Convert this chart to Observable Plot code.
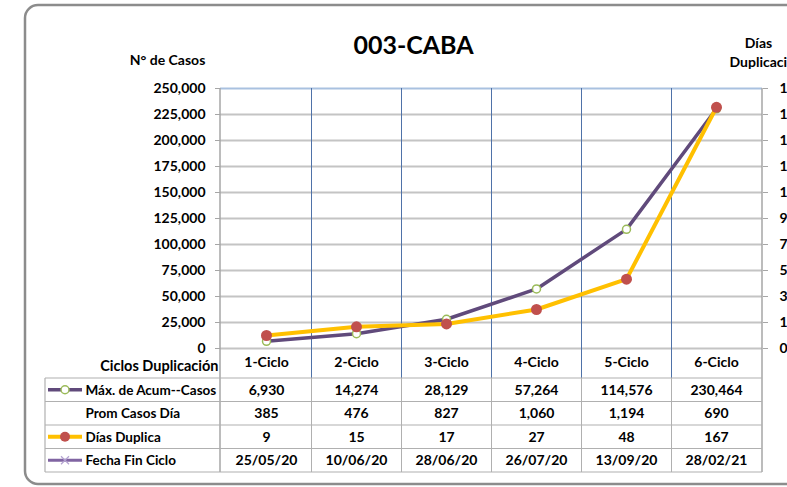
<!DOCTYPE html>
<html><head><meta charset="utf-8">
<script src="https://cdn.jsdelivr.net/npm/d3@7"></script>
<script src="https://cdn.jsdelivr.net/npm/@observablehq/plot@0.6"></script>
<style>body{margin:0;background:#fff} svg{display:block}</style>
</head><body><div id="chart"></div>
<script>
const cycles = ["1-Ciclo","2-Ciclo","3-Ciclo","4-Ciclo","5-Ciclo","6-Ciclo"];
const maxCasos = [6930,14274,28129,57264,114576,230464];
const promCasosDia = [385,476,827,1060,1194,690];
const diasDuplica = [9,15,17,27,48,167];
const fechaFinCiclo = ["25/05/20","10/06/20","28/06/20","26/07/20","13/09/20","28/02/21"];
const leftTicks = d3.range(0, 250001, 25000);
const rightTicks = d3.range(0, 181, 18);
const rowLabels = ["Máx. de Acum--Casos","Prom Casos Día","Días Duplica","Fecha Fin Ciclo"];
const headerLabel = "Ciclos Duplicación";
const title = "003-CABA";

const K = 250000 / 180;
const fmt = d3.format(",");
const data = cycles.map((c, i) => ({cycle: c, max: maxCasos[i], dias: diasDuplica[i] * K}));
const rowValues = [maxCasos.map(fmt), promCasosDia.map(fmt), diasDuplica.map(String), fechaFinCiclo];

const ROW_TOP = 30, ROW_H = 23.5;
const rowCenter = i => ROW_TOP + ROW_H * i + ROW_H / 2;

function decor(index, scales, values, dims) {
  const x = scales.x;
  const left = dims.marginLeft, right = dims.width - dims.marginRight;
  const top = dims.marginTop, bottom = dims.height - dims.marginBottom;
  const g = d3.create("svg:g");
  g.append("rect").attr("x", 25).attr("y", 5).attr("width", 800).attr("height", 479)
    .attr("rx", 13).attr("fill", "none").attr("stroke", "#8c8c8c").attr("stroke-width", 2.5);
  cycles.slice(1).forEach(c => {
    const xx = Math.round(x(c)) + 0.5;
    g.append("line").attr("x1", xx).attr("x2", xx).attr("y1", top).attr("y2", bottom + ROW_TOP)
      .attr("stroke", "#4f72a8").attr("stroke-width", 1);
    g.append("line").attr("x1", xx).attr("x2", xx).attr("y1", bottom + ROW_TOP).attr("y2", bottom + ROW_TOP + 4 * ROW_H)
      .attr("stroke", "#b0b0b0").attr("stroke-width", 1);
  });
  const tb = bottom + ROW_TOP + 4 * ROW_H;
  g.append("line").attr("x1", left).attr("x2", left).attr("y1", top).attr("y2", tb).attr("stroke", "#a6a6a6").attr("stroke-width", 1.5);
  g.append("line").attr("x1", right).attr("x2", right).attr("y1", top).attr("y2", tb).attr("stroke", "#a6a6a6").attr("stroke-width", 1.5);
  for (let i = 0; i <= 4; i++) {
    const yy = bottom + ROW_TOP + ROW_H * i;
    g.append("line").attr("x1", 45).attr("x2", right).attr("y1", yy).attr("y2", yy).attr("stroke", "#b0b0b0").attr("stroke-width", 1.2);
  }
  g.append("line").attr("x1", 45).attr("x2", 45).attr("y1", bottom + ROW_TOP).attr("y2", tb).attr("stroke", "#b0b0b0").attr("stroke-width", 1.2);
  const ky = i => bottom + rowCenter(i);
  g.append("line").attr("x1", 48).attr("x2", 82).attr("y1", ky(0)).attr("y2", ky(0)).attr("stroke", "#604a7b").attr("stroke-width", 3.5);
  g.append("circle").attr("cx", 65).attr("cy", ky(0)).attr("r", 4).attr("fill", "white").attr("stroke", "#9bbb59").attr("stroke-width", 1.5);
  g.append("line").attr("x1", 48).attr("x2", 82).attr("y1", ky(2)).attr("y2", ky(2)).attr("stroke", "#ffc000").attr("stroke-width", 4);
  g.append("circle").attr("cx", 65).attr("cy", ky(2)).attr("r", 5).attr("fill", "#c0504d");
  g.append("line").attr("x1", 48).attr("x2", 82).attr("y1", ky(3)).attr("y2", ky(3)).attr("stroke", "#8064a2").attr("stroke-width", 3);
  g.append("path").attr("d", `M61,${ky(3)-4}L69,${ky(3)+4}M61,${ky(3)+4}L69,${ky(3)-4}`).attr("stroke", "#b3a2d0").attr("stroke-width", 1.2);
  return g.node();
}

const T = {lineAnchor: "middle"};
const marks = [
  Plot.ruleY(leftTicks, {stroke: d => d === 250000 ? "#a9c1e0" : "#c4c4c4", strokeWidth: 2}),
  decor,
  Plot.axisY(leftTicks, {anchor: "left", tickSize: 5, tickPadding: 10, tickFormat: fmt, stroke: "#a6a6a6", label: null}),
  Plot.axisY(rightTicks.map(v => v * K), {anchor: "right", tickSize: 5, tickPadding: 12, tickFormat: d => String(Math.round(d / K)), stroke: "#a6a6a6", label: null}),
  Plot.line(data, {x: "cycle", y: "max", stroke: "#604a7b", strokeWidth: 3.5}),
  Plot.dot(data, {x: "cycle", y: "max", r: 4, fill: "white", stroke: "#9bbb59", strokeWidth: 1.5}),
  Plot.line(data, {x: "cycle", y: "dias", stroke: "#ffc000", strokeWidth: 4}),
  Plot.dot(data, {x: "cycle", y: "dias", r: 5.5, fill: "#c0504d"}),
  Plot.text([title], {...T, frameAnchor: "top-left", dx: 193, dy: -43, fontSize: 25, textAnchor: "middle"}),
  Plot.text(["N° de Casos"], {...T, frameAnchor: "top-left", dx: -53, dy: -28, textAnchor: "middle"}),
  Plot.text(["Días"], {...T, frameAnchor: "top-left", dx: 538, dy: -45, textAnchor: "middle"}),
  Plot.text(["Duplicación"], {...T, frameAnchor: "top-left", dx: 509, dy: -26, textAnchor: "start"}),
  Plot.text(cycles, {...T, x: d => d, frameAnchor: "bottom", dy: 14}),
  Plot.text([headerLabel], {...T, frameAnchor: "bottom-left", dx: -2, dy: 18, textAnchor: "end", fontSize: 14.5}),
  ...rowValues.map((vals, r) => Plot.text(cycles, {...T, x: d => d, text: (d, i) => vals[i], frameAnchor: "bottom", dy: rowCenter(r)})),
  ...rowLabels.map((lab, r) => Plot.text([lab], {...T, frameAnchor: "bottom-left", dx: -135, dy: rowCenter(r), textAnchor: "start", fontSize: 13.5}))
];

const chart = Plot.plot({
  width: 787, height: 487,
  marginLeft: 220, marginRight: 25, marginTop: 88, marginBottom: 139,
  x: {type: "band", domain: cycles, padding: 0, axis: null},
  y: {domain: [0, 250000], axis: null},
  style: {fontFamily: "Lato, sans-serif", fontSize: "14px", fontWeight: "bold", color: "#000", background: "white", overflow: "hidden"},
  marks
});
document.getElementById("chart").append(chart);
</script>
</body></html>
